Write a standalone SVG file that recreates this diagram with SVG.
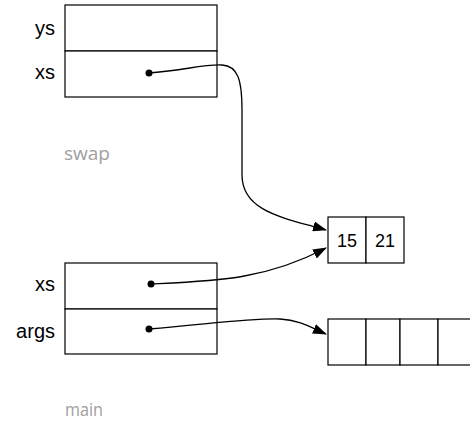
<svg xmlns="http://www.w3.org/2000/svg" width="470" height="421" viewBox="0 0 470 421">
<style>
.box{fill:#fff;stroke:#000;stroke-width:1.2}
.lbl{font-family:"Liberation Sans",Arial,sans-serif;font-size:20px;fill:#000}
.num{font-family:"Liberation Sans",Arial,sans-serif;font-size:18px;fill:#000}
.frame{font-family:"Open Sans","Noto Sans",sans-serif;font-size:19px;fill:#a0a0a0}
.conn{fill:none;stroke:#000;stroke-width:1.3}
</style>
<defs>
<marker id="ah" markerUnits="userSpaceOnUse" markerWidth="14" markerHeight="10" refX="13" refY="5" orient="auto">
<path d="M0,0 L14,5 L0,10 Z" fill="#000"/>
</marker>
</defs>
<rect width="470" height="421" fill="#fff"/>
<g id="swap">
<rect class="box" x="65" y="5" width="152" height="46"/>
<rect class="box" x="65" y="51" width="152" height="46"/>
<text class="lbl" x="55" y="35" text-anchor="end">ys</text>
<text class="lbl" x="55" y="79" text-anchor="end">xs</text>
<text class="frame" x="64" y="160" textLength="46" lengthAdjust="spacingAndGlyphs">swap</text>
</g>
<g id="pair">
<rect class="box" x="328" y="217" width="38" height="46"/>
<rect class="box" x="366" y="217" width="38" height="46"/>
<text class="num" x="347" y="247" text-anchor="middle">15</text>
<text class="num" x="385" y="247" text-anchor="middle">21</text>
</g>
<g id="main">
<rect class="box" x="65" y="263" width="152" height="46"/>
<rect class="box" x="65" y="309" width="152" height="45"/>
<text class="lbl" x="55" y="291" text-anchor="end">xs</text>
<text class="lbl" x="55" y="338" text-anchor="end">args</text>
<text class="frame" x="65" y="416" textLength="38" lengthAdjust="spacingAndGlyphs">main</text>
</g>
<g id="array">
<rect class="box" x="328" y="319" width="38" height="46"/>
<rect class="box" x="366" y="319" width="34" height="46"/>
<rect class="box" x="400" y="319" width="38" height="46"/>
<rect class="box" x="438" y="319" width="40" height="46"/>
</g>
<g id="connectors">
<circle cx="149" cy="73" r="3.5"/>
<circle cx="151" cy="284" r="3.5"/>
<circle cx="149" cy="329" r="3.5"/>
<path class="conn" marker-end="url(#ah)" d="M149,73 C180,71 205,64 222,65 C238,66 242,80 242,110 L242,175 C242,212 285,218 326,230"/>
<path class="conn" marker-end="url(#ah)" d="M151,284 C215,281 265,280 326,248"/>
<path class="conn" marker-end="url(#ah)" d="M149,329 C210,324 250,318 280,319 C300,320 312,328 326,334"/>
</g>
</svg>
